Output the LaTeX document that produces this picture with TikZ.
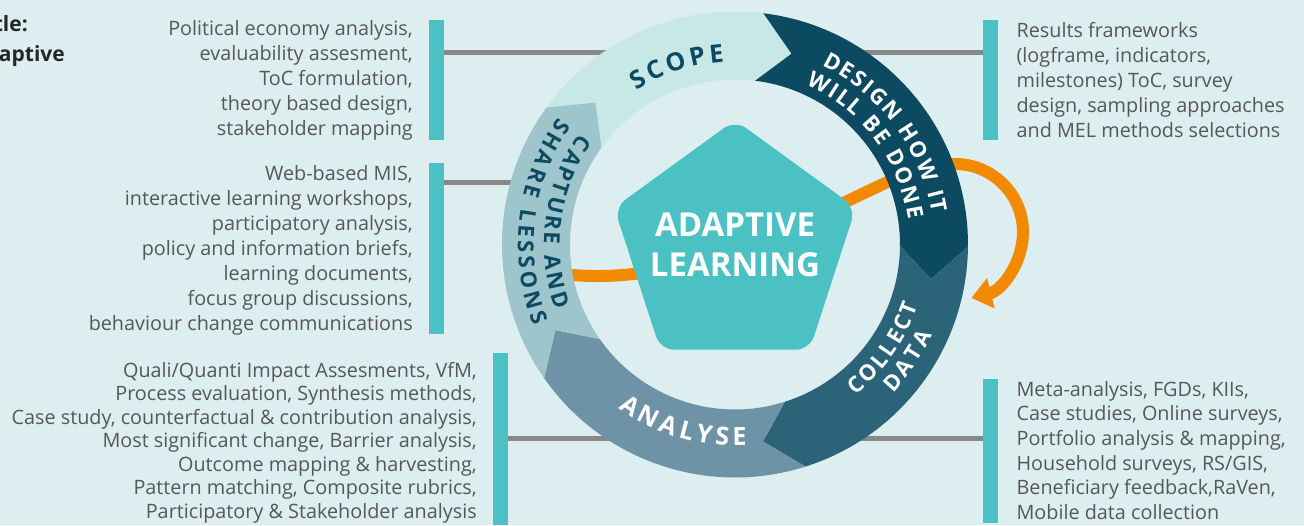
\documentclass[tikz,border=0pt]{standalone}
\usepackage{fontspec}
\setmainfont{Open Sans}
\usepackage{tikz}
\usetikzlibrary{arrows.meta}
\usetikzlibrary{decorations.text}
\usepackage{xcolor}

\definecolor{paper}{HTML}{DCEEF0}
\definecolor{scopecol}{HTML}{C8E8E7}
\definecolor{designcol}{HTML}{0C4A62}
\definecolor{collectcol}{HTML}{2B6479}
\definecolor{analysecol}{HTML}{6F93A6}
\definecolor{capturecol}{HTML}{9DC5CB}
\definecolor{hubcol}{HTML}{4CC1C3}
\definecolor{linkgray}{HTML}{888888}
\definecolor{bodygray}{HTML}{575757}
\definecolor{loopcol}{HTML}{F18A00}

\newcommand{\bodyfont}{\fontsize{19.8}{25}\selectfont}
\newcommand{\ringfont}{\fontsize{22}{22}\bfseries}
\newcommand{\bigringfont}{\fontsize{25}{25}\bfseries}
\newcommand{\hubfont}{\fontsize{33}{40}\bfseries}

\tikzset{
  bar/.style={fill=hubcol, minimum width=15pt, inner sep=0pt, anchor=north west},
  bodytext/.style={font=\bodyfont, text=bodygray, inner sep=0pt},
  link/.style={draw=linkgray, line width=5pt},
  ringtext/.style={decorate, decoration={text along path, text align=center, text={#1}}},
  hubtext/.style={inner sep=0pt, text=white, font=\hubfont, align=center}
}

\begin{document}
\begin{tikzpicture}[x=1pt, y=1pt]
  \useasboundingbox (-735,-280.5) rectangle (569,244.5);
  \fill[paper] (-735,-280.5) rectangle (569,244.5);

  % bars on both sides
  \node[bar, minimum height=120pt] (scopebar) at (-306,224.5) {};
  \node[bar, minimum height=171pt] (capturebar) at (-306,81.5) {};
  \node[bar, minimum height=172pt] (analysebar) at (-242,-108.5) {};
  \node[bar, minimum height=120pt] (designbar) at (248,224.5) {};
  \node[bar, minimum height=144pt] (collectbar) at (248,-134.5) {};

  \coordinate (captureend) at (-200,62.5);
  \coordinate (loopstart) at (-190,-27);

  % grey links, under the ring
  \draw[link] ([yshift=-33pt]scopebar.north east) -- ([yshift=-33pt]designbar.north west);
  \draw[link] ([yshift=-19pt]capturebar.north east) -- (captureend);
  \draw[link] ([yshift=-85pt]analysebar.north east) -- ([yshift=-59pt]collectbar.north west);

  % orange loop
  \draw[loopcol, line width=12pt, -{Triangle[length=20pt, width=30pt]}]
    (loopstart) .. controls (-60,-50) and (60,20) .. (160,66)
    .. controls (185,78) and (200,80.5) .. (220,80.5)
    arc[start angle=90, end angle=-76, radius=68];

  % ring
  \fill[scopecol] (144:233) arc[start angle=144, end angle=83, radius=233] -- (73.5:199)
    -- (83:165) arc[start angle=83, end angle=144, radius=165] -- (134.5:199) -- cycle;
  \fill[designcol] (83:233) arc[start angle=83, end angle=-0.5, radius=233] -- (-10:199)
    -- (-0.5:165) arc[start angle=-0.5, end angle=83, radius=165] -- (73.5:199) -- cycle;
  \fill[collectcol] (-0.5:233) arc[start angle=-0.5, end angle=-72.4, radius=233] -- (-81.9:199)
    -- (-72.4:165) arc[start angle=-72.4, end angle=-0.5, radius=165] -- (-10:199) -- cycle;
  \fill[analysecol] (-72.4:233) arc[start angle=-72.4, end angle=-145, radius=233] -- (-154.5:199)
    -- (-145:165) arc[start angle=-145, end angle=-72.4, radius=165] -- (-81.9:199) -- cycle;
  \fill[capturecol] (215:233) arc[start angle=215, end angle=144, radius=233] -- (134.5:199)
    -- (144:165) arc[start angle=144, end angle=215, radius=165] -- (205.5:199) -- cycle;

  % pentagon in the middle
  \begin{scope}[shift={(0,-2.5)}]
    \fill[hubcol, rounded corners=14pt] (90:127) -- (162:127) -- (234:127) -- (306:127) -- (18:127) -- cycle;
  \end{scope}
  \node[hubtext] (hub) at (0,-0.5) {ADAPTIVE\\LEARNING};

  % ring labels
  \path[ringtext={|\bigringfont\color{designcol}\kern3.6pt|SCOPE}]
    (153.6:183) arc[start angle=153.6, end angle=63.6, radius=183];
  \path[ringtext={|\ringfont\color{white}\kern1.9pt|DESIGN HOW IT}]
    (81.85:199) arc[start angle=81.85, end angle=-8.15, radius=199];
  \path[ringtext={|\ringfont\color{white}\kern1.9pt|WILL BE DONE}]
    (82.5:175) arc[start angle=82.5, end angle=-7.5, radius=175];
  \path[ringtext={|\ringfont\color{white}\kern2.6pt|COLLECT}]
    (-80.4:193) arc[start angle=-80.4, end angle=9.6, radius=193];
  \path[ringtext={|\ringfont\color{white}\kern3.6pt|DATA}]
    (-79.5:217) arc[start angle=-79.5, end angle=10.5, radius=217];
  \path[ringtext={|\bigringfont\color{white}\kern4pt|ANALYSE}]
    (-151.7:201) arc[start angle=-151.7, end angle=-61.7, radius=201];
  \path[ringtext={|\ringfont\color{designcol}\kern3pt|CAPTURE AND}]
    (126.85:191) arc[start angle=126.85, end angle=216.85, radius=191];
  \path[ringtext={|\ringfont\color{designcol}\kern3.8pt|SHARE LESSONS}]
    (127.6:217) arc[start angle=127.6, end angle=217.6, radius=217];

  % method lists
  \node[bodytext, align=right, anchor=north east] (scopetext) at ([xshift=-16pt]scopebar.north west)
    {Political economy analysis,\\evaluability assesment,\hspace*{5pt}\\ToC formulation,\\theory based design,\\stakeholder mapping};
  \node[bodytext, align=right, anchor=north east] (capturetext) at ([xshift=-16pt, yshift=-2pt]capturebar.north west)
    {Web-based MIS,\\interactive learning workshops,\\participatory analysis,\hspace*{5pt}\\policy and information briefs,\\learning documents,\\focus group discussions,\hspace*{5pt}\\behaviour change communications};
  \node[bodytext, font=\fontsize{19.8}{23.5}\selectfont, align=right, anchor=north east] (analysetext) at ([xshift=-16pt, yshift=-9pt]analysebar.north west)
    {Quali/Quanti Impact Assesments, VfM,\\Process evaluation, Synthesis methods,\\Case study, counterfactual \& contribution analysis,\\Most significant change, Barrier analysis,\\Outcome mapping \& harvesting,\\Pattern matching, Composite rubrics,\\Participatory \& Stakeholder analysis};
  \node[bodytext, align=left, anchor=north west] (designtext) at ([xshift=18pt, yshift=-2pt]designbar.north east)
    {Results frameworks\\(logframe, indicators,\\milestones) ToC, survey\\design, sampling approaches\\and MEL methods selections};
  \node[bodytext, font=\fontsize{19.8}{24.6}\selectfont, align=left, anchor=north west] (collecttext) at ([xshift=18pt, yshift=-2pt]collectbar.north east)
    {Meta-analysis, FGDs, KIIs,\\Case studies, Online surveys,\\Portfolio analysis \& mapping,\\Household surveys, RS/GIS,\\Beneficiary feedback,RaVen,\\Mobile data collection};

  % cut title
  \node[font=\fontsize{21}{21}\bfseries, text=black!85, inner sep=0pt, anchor=base east] (titleA) at (-707,212.5) {tle:};
  \node[font=\fontsize{21}{21}\bfseries, text=black!85, inner sep=0pt, anchor=base east] (titleB) at (-670,182.5) {aptive};
\end{tikzpicture}
\end{document}
